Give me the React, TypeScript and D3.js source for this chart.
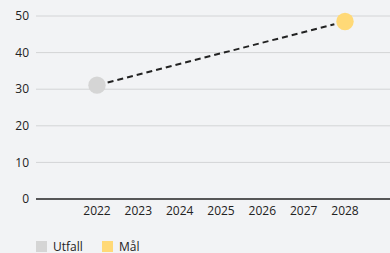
import React from "react";
import * as d3 from "d3";

const years = [2022, 2023, 2024, 2025, 2026, 2027, 2028];
const yTicks = [0, 10, 20, 30, 40, 50];
const utfallYears = [2022];
const utfallValues = [31.1];
const malYears = [2028];
const malValues = [48.5];
const legendLabels = ["Utfall", "Mål"];
const legendColors = ["#d5d5d5", "#ffd977"];

const W = 390;
const H = 253;

export default function App() {
  const x = d3.scaleLinear().domain([2022, 2028]).range([97, 345]);
  const y = d3.scaleLinear().domain([0, 50]).range([199, 16]);
  const left = 36;
  const font = "'Open Sans', sans-serif";

  const p0 = [x(utfallYears[0]), y(utfallValues[0])];
  const p1 = [x(malYears[0]), y(malValues[0])];
  const dx = p1[0] - p0[0];
  const dy = p1[1] - p0[1];
  const len = Math.hypot(dx, dy);
  const gap = 11;
  const line = d3.line()([
    [p0[0] + (dx / len) * gap, p0[1] + (dy / len) * gap],
    [p1[0] - (dx / len) * gap, p1[1] - (dy / len) * gap],
  ]);

  return (
    <div style={{ position: "fixed", left: 0, top: 0, width: W, height: H, background: "#f2f3f5" }}>
      <svg width={W} height={H} style={{ display: "block", fontFamily: font }}>
        <rect width={W} height={H} fill="#f2f3f5" />
        {yTicks.map((t) => (
          <g key={t}>
            {t !== 0 && (
              <line x1={left} x2={W} y1={y(t)} y2={y(t)} stroke="#d3d4d6" strokeWidth={1} />
            )}
            <text x={29} y={y(t)} dy="0.35em" textAnchor="end" fontSize={12} fill="#222">
              {t}
            </text>
          </g>
        ))}
        <line x1={left} x2={W} y1={y(0)} y2={y(0)} stroke="#222" strokeWidth={1.5} />
        {years.map((yr) => (
          <text key={yr} x={x(yr)} y={215} textAnchor="middle" fontSize={12} fill="#222">
            {yr}
          </text>
        ))}
        <path d={line || ""} stroke="#222" strokeWidth={2} strokeDasharray="6,4" fill="none" />
        {utfallYears.map((yr, i) => (
          <circle key={"u" + yr} cx={x(yr)} cy={y(utfallValues[i])} r={8.7} fill={legendColors[0]} />
        ))}
        {malYears.map((yr, i) => (
          <circle key={"m" + yr} cx={x(yr)} cy={y(malValues[i])} r={8.7} fill={legendColors[1]} />
        ))}
        {legendLabels.map((l, i) => {
          const lx = i === 0 ? 36 : 102;
          return (
            <g key={l}>
              <rect x={lx} y={241} width={11} height={11} fill={legendColors[i]} />
              <text x={lx + 17} y={251} fontSize={12} fill="#222">
                {l}
              </text>
            </g>
          );
        })}
      </svg>
    </div>
  );
}
